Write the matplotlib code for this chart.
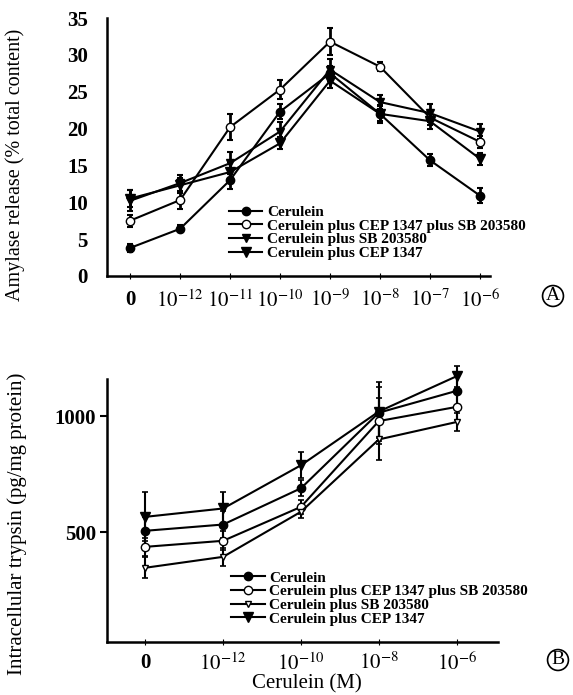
import matplotlib
matplotlib.use("Agg")
import matplotlib.pyplot as plt
from matplotlib.lines import Line2D

plt.rcParams["font.family"] = ["Liberation Serif", "DejaVu Serif"]
plt.rcParams["mathtext.fontset"] = "stix"

series = ["Cerulein", "Cerulein plus CEP 1347 plus SB 203580",
          "Cerulein plus SB 203580", "Cerulein plus CEP 1347"]

# panel A: amylase release (% total content)
a_ticks = ["0", r"$10^{-12}$", r"$10^{-11}$", r"$10^{-10}$",
           r"$10^{-9}$", r"$10^{-8}$", r"$10^{-7}$", r"$10^{-6}$"]
a_cer = [3.8, 6.4, 13.0, 22.3, 27.5, 22.0, 15.7, 10.9]
a_cep_sb = [7.5, 10.3, 20.2, 25.3, 31.8, 28.4, 21.5, 18.2]
a_sb = [10.2, 12.6, 15.3, 19.6, 28.0, 23.6, 22.1, 19.6]
a_cep = [10.5, 12.3, 14.1, 18.0, 26.5, 22.0, 21.0, 15.9]
a_cer_err = [0.5, 0.5, 1.2, 1.0, 1.0, 1.0, 0.8, 1.0]
a_cep_sb_err = [0.8, 1.2, 1.8, 1.3, 1.8, 0.6, 1.0, 0.8]
a_sb_err = [1.4, 1.1, 1.5, 1.3, 1.5, 1.0, 1.2, 1.0]
a_cep_err = [1.2, 1.0, 1.4, 0.8, 1.0, 1.2, 1.0, 0.8]

# panel B: intracellular trypsin (pg/mg protein)
b_ticks = ["0", r"$10^{-12}$", r"$10^{-10}$", r"$10^{-8}$", r"$10^{-6}$"]
b_cer = [507, 534, 690, 1015, 1109]
b_cep_sb = [438, 464, 610, 979, 1040]
b_sb = [348, 395, 589, 900, 975]
b_cep = [567, 603, 789, 1020, 1172]
b_cer_err = [60, 60, 35, 110, 60]
b_cep_sb_err = [40, 40, 30, 100, 55]
b_sb_err = [45, 40, 25, 90, 40]
b_cep_err = [105, 70, 55, 125, 45]

styles = [
    dict(marker="o", mfc="black", ms=6),
    dict(marker="o", mfc="white", ms=6),
    dict(marker="v", mfc="black", ms=6),
    dict(marker="v", mfc="black", ms=7),
]
stylesB = [dict(st) for st in styles]
stylesB[2]["mfc"] = "white"
stylesB[2]["ms"] = 4

fig = plt.figure(figsize=(5.73, 6.95), dpi=100)
axA = fig.add_axes([0.187, 0.603, 0.668, 0.371])
axB = fig.add_axes([0.187, 0.0767, 0.682, 0.378])

xa = list(range(len(a_ticks)))
for vals, errs, st in zip([a_cer, a_cep_sb, a_sb, a_cep],
                          [a_cer_err, a_cep_sb_err, a_sb_err, a_cep_err], styles):
    axA.errorbar(xa, vals, yerr=errs, color="black", lw=1.5, capsize=2.5,
                 elinewidth=2, capthick=1.5, mec="black", clip_on=False, **st)

axA.set_xlim(-0.46, 7.2)
axA.set_ylim(0, 35)
axA.set_xticks(xa)
axA.set_xticklabels(a_ticks)
axA.set_yticks(range(0, 36, 5))
axA.tick_params(axis="y", length=0, pad=14, labelsize=15)
axA.tick_params(axis="x", direction="inout", length=4, pad=8, labelsize=15)
for lab in axA.get_yticklabels() + axA.get_xticklabels():
    lab.set_fontweight("bold")
axA.set_ylabel("Amylase release (% total content)", fontsize=14.5)
axA.yaxis.set_label_coords(-0.215, 0.43)

xb = list(range(len(b_ticks)))
for vals, errs, st in zip([b_cer, b_cep_sb, b_sb, b_cep],
                          [b_cer_err, b_cep_sb_err, b_sb_err, b_cep_err], stylesB):
    axB.errorbar(xb, vals, yerr=errs, color="black", lw=1.5, capsize=2.5,
                 elinewidth=1.5, capthick=1.2, mec="black", clip_on=False, **st)

axB.set_xlim(-0.49, 4.53)
axB.set_ylim(30, 1160)
axB.set_xticks(xb)
axB.set_xticklabels(b_ticks)
axB.set_yticks([500, 1000])
axB.tick_params(axis="y", direction="out", length=5, width=1.5, pad=3, labelsize=15)
axB.tick_params(axis="x", direction="inout", length=4, pad=6, labelsize=15)
for lab in axB.get_yticklabels() + axB.get_xticklabels():
    lab.set_fontweight("bold")
axB.set_ylabel("Intracellular trypsin (pg/mg protein)", fontsize=15)
axB.yaxis.set_label_coords(-0.205, 0.45)
axB.set_xlabel("Cerulein (M)", fontsize=15)
axB.xaxis.set_label_coords(0.51, -0.125)
axB.xaxis.label.set_va("top")

for ax in (axA, axB):
    ax.spines["top"].set_visible(False)
    ax.spines["right"].set_visible(False)
    ax.spines["left"].set_linewidth(1.8)
    ax.spines["bottom"].set_linewidth(1.8)

handlesA = [Line2D([], [], color="black", lw=1.5, mec="black", **st) for st in styles]
axA.legend(handlesA, series, loc="lower left", bbox_to_anchor=(0.29, 0.02),
           frameon=False, handlelength=2.2, handletextpad=0.3,
           labelspacing=0.0, borderpad=0.2, prop={"weight": "bold", "size": 11})

handlesB = [Line2D([], [], color="black", lw=1.5, mec="black", **st) for st in stylesB]
axB.legend(handlesB, series, loc="lower left", bbox_to_anchor=(0.29, 0.02),
           frameon=False, handlelength=2.2, handletextpad=0.3,
           labelspacing=0.0, borderpad=0.2, prop={"weight": "bold", "size": 11})

fig.text(553 / 573, 1 - 296 / 695, "A", ha="center", va="center", fontsize=14,
         bbox=dict(boxstyle="circle,pad=0.1", fc="white", ec="black", lw=1.2))
fig.text(558 / 573, 1 - 660 / 695, "B", ha="center", va="center", fontsize=14,
         bbox=dict(boxstyle="circle,pad=0.1", fc="white", ec="black", lw=1.2))

fig.savefig("out.png", dpi=100)
